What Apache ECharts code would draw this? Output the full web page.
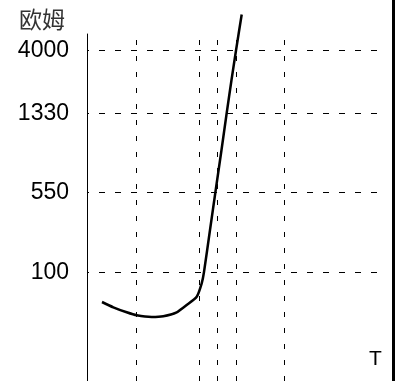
<!DOCTYPE html>
<html>
<head>
<meta charset="utf-8">
<script src="https://cdn.jsdelivr.net/npm/echarts@6/dist/echarts.min.js"></script>
<style>html,body{margin:0;padding:0;background:#fff}#c{width:395px;height:381px}</style>
</head>
<body>
<div id="c"></div>
<script>
// Schematic axes (arbitrary units): resistance levels and their positions
const levelLabels = ['100', '550', '1330', '4000'];
const levelPos = [108.7, 188.7, 267.7, 330.3];
// Temperature marker positions (arbitrary units)
const tempMarks = [49.5, 112.5, 130, 149.3, 197.7];
// Curve (T, resistance position)
const curveT = [15, 26.3, 39.7, 49.7, 64.7, 76.3, 89.7, 99.7, 109.7, 114.7, 117, 123, 129, 134.5, 139.7, 144.5, 149, 154.7];
const curveR = [79, 73.7, 68.7, 65.7, 64, 64.7, 68.7, 76, 84.3, 97.7, 109, 151, 193, 231, 268, 301, 330.5, 366.5];

const X_MAX = 306, Y_MAX = 347, H_END = 296;
const chart = echarts.init(document.getElementById('c'), null, {renderer: 'canvas'});
const hLines = levelPos.map(v => [{coord: [0, v]}, {coord: [H_END, v]}]);
const vLines = tempMarks.map(v => [{coord: [v, 0]}, {coord: [v, Y_MAX]}]);
chart.setOption({
  animation: false,
  backgroundColor: '#fff',
  title: [
    {text: '欧姆', left: 14, top: 3, textStyle: {fontSize: 23, fontWeight: 'normal', color: '#333', fontFamily: 'Noto Sans CJK SC'}},
    {text: 'T', left: 364, top: 344, textStyle: {fontSize: 21, fontWeight: 'normal', color: '#000', fontFamily: 'Liberation Sans'}}
  ],
  grid: {left: 87, right: 2, top: 34, bottom: 0},
  xAxis: {type: 'value', min: 0, max: X_MAX, show: false},
  yAxis: {
    type: 'value', min: 0, max: Y_MAX,
    axisLine: {show: true, lineStyle: {color: '#000', width: 1}},
    axisTick: {show: false},
    splitLine: {show: false},
    axisLabel: {
      customValues: levelPos,
      formatter: v => { const i = levelPos.indexOf(v); return i >= 0 ? levelLabels[i] : ''; },
      fontSize: 23, color: '#000', fontFamily: 'Liberation Sans', margin: 18
    }
  },
  graphic: [{type: 'rect', right: 0, top: 0, shape: {width: 3, height: 381}, style: {fill: '#000'}}],
  series: [{
    type: 'line',
    data: curveT.map((t, i) => [t, curveR[i]]),
    showSymbol: false,
    clip: false,
    smooth: 0.2,
    lineStyle: {color: '#000', width: 2.5},
    markLine: {
      silent: true, symbol: 'none', label: {show: false},
      data: [
        ...hLines.map(d => [{...d[0], lineStyle: {color: '#000', width: 1, type: [6, 10], dashOffset: 4}}, d[1]]),
        ...vLines.map(d => [{...d[0], lineStyle: {color: '#000', width: 1, type: [5, 11]}}, d[1]])
      ]
    }
  }]
});
</script>
</body>
</html>
